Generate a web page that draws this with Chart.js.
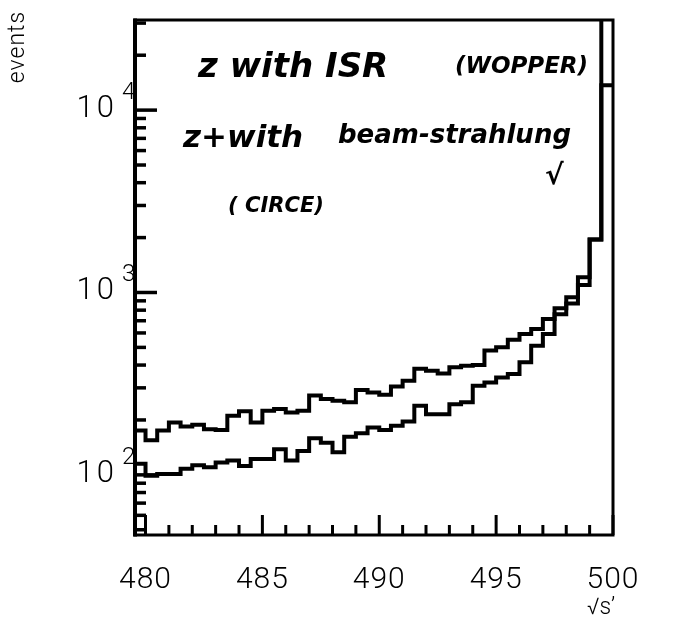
<!DOCTYPE html>
<html>
<head>
<meta charset="utf-8">
<script src="https://cdn.jsdelivr.net/npm/chart.js@4.4.0/dist/chart.umd.min.js"></script>
<style>
  html, body { margin: 0; padding: 0; background: #fff; }
  #wrap { width: 689px; height: 635px; position: relative; }
</style>
</head>
<body>
<div id="wrap"><canvas id="c" width="689" height="635"></canvas></div>
<script>
// ---- data ----
// bin lower edges (0.5 wide bins); last entry closes the final bin
const binEdges = [479.5, 480, 480.5, 481, 481.5, 482, 482.5, 483, 483.5, 484, 484.5,
  485, 485.5, 486, 486.5, 487, 487.5, 488, 488.5, 489, 489.5,
  490, 490.5, 491, 491.5, 492, 492.5, 493, 493.5, 494, 494.5,
  495, 495.5, 496, 496.5, 497, 497.5, 498, 498.5, 499, 499.5, 500];

// upper histogram (z + beamstrahlung, CIRCE)
const upperCounts = [175, 155, 175, 194, 184, 188, 178, 176, 211, 223,
  194, 225, 230, 220, 225, 272, 261, 255, 250, 292,
  283, 275, 305, 328, 382, 372, 360, 389, 397, 400,
  480, 501, 550, 593, 631, 716, 760, 943, 1100, 1950, 13700];

// lower histogram (z with ISR, WOPPER)
const lowerCounts = [115, 99, 101, 101, 108, 113, 110, 117, 120, 112,
  122, 122, 138, 120, 135, 159, 150, 133, 162, 169,
  182, 176, 186, 196, 239, 215, 215, 244, 250, 308,
  321, 342, 357, 414, 511, 593, 820, 870, 1213, 1950, 60000];

const xTickValues = [480, 481, 482, 483, 484, 485, 486, 487, 488, 489, 490,
  491, 492, 493, 494, 495, 496, 497, 498, 499, 500];
const xLabelValues = [480, 485, 490, 495, 500];
const yDecadeValues = [100, 1000, 10000];
const yDecadeExponents = ['2', '3', '4'];
const yMinorValues = [50, 60, 70, 80, 90, 200, 300, 400, 500, 600, 700, 800, 900,
  2000, 3000, 4000, 5000, 6000, 7000, 8000, 9000, 20000, 30000];

const xTitle = '\u221As\u2019';
const yTitle = 'events';

// point i carries the count of the bin that ends at edge i; with stepped 'after'
// the segment [edge i-1, edge i] is drawn at that count
function toPoints(edges, counts) {
  return edges.map((x, i) => ({ x: x, y: counts[Math.max(0, i - 1)] }));
}

const FONT = 'Roboto, "Liberation Sans", sans-serif';

const decor = {
  id: 'decor',
  afterDatasetsDraw(chart) {
    const ctx = chart.ctx;
    const a = chart.chartArea;
    const xs = chart.scales.x, ys = chart.scales.y;
    ctx.save();
    ctx.strokeStyle = '#000';
    ctx.fillStyle = '#000';
    // frame
    ctx.lineWidth = 3;
    ctx.strokeRect(a.left, a.top, a.right - a.left, a.bottom - a.top);
    ctx.lineWidth = 4;
    ctx.beginPath(); ctx.moveTo(a.left, a.top - 1.5); ctx.lineTo(a.left, a.bottom + 1.5); ctx.stroke();

    // y ticks (inside)
    ctx.lineWidth = 3.5;
    yDecadeValues.forEach(v => {
      const y = ys.getPixelForValue(v);
      ctx.beginPath(); ctx.moveTo(a.left, y); ctx.lineTo(a.left + 22, y); ctx.stroke();
    });
    yMinorValues.forEach(v => {
      const y = ys.getPixelForValue(v);
      if (y < a.top || y > a.bottom) return;
      ctx.beginPath(); ctx.moveTo(a.left, y); ctx.lineTo(a.left + 11, y); ctx.stroke();
    });
    // x ticks (inside)
    ctx.lineWidth = 3;
    xTickValues.forEach(v => {
      const x = xs.getPixelForValue(v);
      const major = xLabelValues.indexOf(v) >= 0;
      ctx.beginPath(); ctx.moveTo(x, a.bottom); ctx.lineTo(x, a.bottom - (major ? 20 : 10)); ctx.stroke();
    });

    // x tick labels
    ctx.font = '300 30px ' + FONT;
    ctx.letterSpacing = '1px';
    ctx.textAlign = 'center';
    ctx.textBaseline = 'top';
    xLabelValues.forEach(v => {
      ctx.fillText(String(v), xs.getPixelForValue(v), a.bottom + 30);
    });
    // y tick labels 10^n
    yDecadeValues.forEach((v, i) => {
      const y = ys.getPixelForValue(v);
      ctx.font = '300 31px ' + FONT;
      ctx.letterSpacing = '3px';
      ctx.textAlign = 'right';
      ctx.textBaseline = 'middle';
      ctx.fillText('10', a.left - 18, y - 1);
      ctx.font = '300 24px ' + FONT;
      ctx.letterSpacing = '0px';
      ctx.textAlign = 'left';
      ctx.fillText(yDecadeExponents[i], a.left - 13, y - 17);
    });
    ctx.letterSpacing = '0px';
    // axis titles
    ctx.font = '300 23px ' + FONT;
    ctx.textAlign = 'center';
    ctx.textBaseline = 'middle';
    ctx.fillText(xTitle, a.right - 12, a.bottom + 73);
    ctx.save();
    ctx.translate(18, 47);
    ctx.rotate(-Math.PI / 2);
    ctx.letterSpacing = '1px';
    ctx.fillText(yTitle, 0, 0);
    ctx.restore();

    // handwritten annotations
    ctx.textAlign = 'left';
    ctx.textBaseline = 'alphabetic';
    ctx.font = 'italic bold 34px "DejaVu Sans", sans-serif';
    ctx.fillText('z with ISR', 198, 77, 220);
    ctx.font = 'italic bold 23px "DejaVu Sans", sans-serif';
    ctx.fillText('(WOPPER)', 455, 73, 158);
    ctx.font = 'italic bold 31px "DejaVu Sans", sans-serif';
    ctx.fillText('z+with', 183, 147, 140);
    ctx.font = 'italic bold 26px "DejaVu Sans", sans-serif';
    ctx.fillText('beam-strahlung', 338, 143, 252);
    ctx.font = 'italic bold 22px "DejaVu Sans", sans-serif';
    ctx.fillText('( CIRCE)', 228, 212, 96);
    ctx.font = 'bold 28px "DejaVu Sans", sans-serif';
    ctx.fillText('\u221A', 545, 184);
    ctx.restore();
  }
};

new Chart(document.getElementById('c'), {
  type: 'line',
  data: {
    datasets: [
      { label: 'z + beamstrahlung (CIRCE)', data: toPoints(binEdges, upperCounts) },
      { label: 'z with ISR (WOPPER)', data: toPoints(binEdges, lowerCounts) }
    ]
  },
  options: {
    responsive: false,
    devicePixelRatio: 1,
    animation: false,
    layout: { padding: { left: 135, right: 76, top: 20, bottom: 100 } },
    elements: {
      line: { borderColor: '#000', borderWidth: 4, stepped: 'after', fill: false, tension: 0 },
      point: { radius: 0, hoverRadius: 0 }
    },
    plugins: { legend: { display: false }, tooltip: { enabled: false } },
    scales: {
      x: { type: 'linear', min: 479.55, max: 500, display: false },
      y: { type: 'logarithmic', min: 46.8, max: 31200, display: false }
    }
  },
  plugins: [decor]
});
</script>
</body>
</html>
